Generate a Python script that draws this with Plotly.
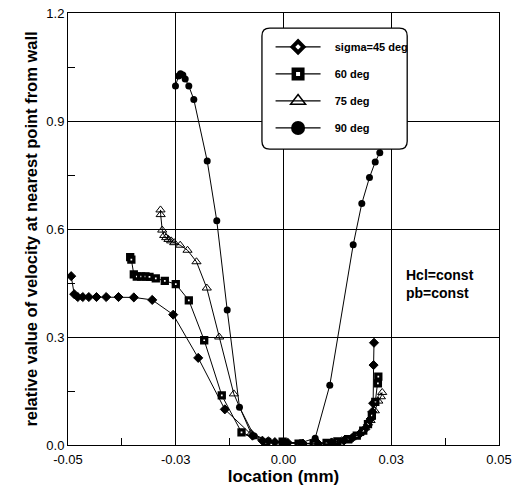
import plotly.graph_objects as go

# ---- data ----
x45 = [-0.04926, -0.04856, -0.04773, -0.04657, -0.04517, -0.04339, -0.04114, -0.03828,
       -0.03473, -0.03046, -0.02559, -0.01979, -0.01362, -0.0072, -0.0049, -0.0020, 0.0010,
       0.0045, 0.0080, 0.0112, 0.0140, 0.0160, 0.0176, 0.0187, 0.0196, 0.0202, 0.0206,
       0.0208, 0.0209, 0.0210]
y45 = [0.469, 0.419, 0.411, 0.411, 0.411, 0.411, 0.411, 0.411,
       0.410, 0.403, 0.362, 0.242, 0.099, 0.026, 0.012, 0.008, 0.006,
       0.004, 0.004, 0.007, 0.012, 0.020, 0.030, 0.042, 0.056, 0.072, 0.092,
       0.116, 0.222, 0.284]

x60 = [-0.03557, -0.03530, -0.03473, -0.03404, -0.03302, -0.03202, -0.03109, -0.02963,
       -0.02754, -0.02499, -0.02197, -0.01840, -0.01432, -0.00974, -0.0040, -0.0002,
       0.0035, 0.0070, 0.0100, 0.0125, 0.0150, 0.0170, 0.0185, 0.0196, 0.0205, 0.0213,
       0.0219, 0.0220]
y60 = [0.522, 0.515, 0.474, 0.468, 0.468, 0.468, 0.467, 0.463,
       0.456, 0.447, 0.402, 0.291, 0.138, 0.035, 0.006, 0.009,
       0.004, 0.004, 0.006, 0.010, 0.016, 0.026, 0.040, 0.058, 0.082, 0.120,
       0.171, 0.190]

x75 = [-0.02854, -0.02850, -0.02814, -0.02768, -0.02722, -0.02668, -0.02606, -0.02536,
       -0.02397, -0.02227, -0.02019, -0.01780, -0.01492, -0.01153, -0.0075, -0.0035,
       0.0005, 0.0045, 0.0080, 0.0110, 0.0135, 0.0158, 0.0176, 0.0190, 0.0202, 0.0212,
       0.0220, 0.0226, 0.0229]
y75 = [0.653, 0.640, 0.597, 0.582, 0.576, 0.571, 0.567, 0.562,
       0.555, 0.541, 0.509, 0.436, 0.300, 0.142, 0.032, 0.012,
       0.006, 0.003, 0.004, 0.007, 0.012, 0.020, 0.032, 0.048, 0.068, 0.095,
       0.122, 0.134, 0.146]

x90 = [-0.02506, -0.02436, -0.02390, -0.02336, -0.02281, -0.02197, -0.02081, -0.01770,
       -0.01548, -0.01306, -0.01021, -0.0068, -0.0035, 0.0000, 0.0040, 0.00735, 0.01074,
       0.01617, 0.01817, 0.01995, 0.02128, 0.02234, 0.0237]
y90 = [0.997, 1.025, 1.031, 1.028, 1.017, 0.997, 0.960, 0.789,
       0.623, 0.375, 0.105, 0.025, 0.012, 0.008, 0.006, 0.019, 0.166,
       0.556, 0.671, 0.743, 0.786, 0.812, 0.870]

series_names = ["sigma=45 deg", "60 deg", "75 deg", "90 deg"]
x_tickvals = [-0.05, -0.025, 0.0, 0.025, 0.05]
x_ticktext = ["-0.05", "-0.03", "0.00", "0.03", "0.05"]
y_tickvals = [0.0, 0.3, 0.6, 0.9, 1.2]
y_ticktext = ["0.0", "0.3", "0.6", "0.9", "1.2"]
note_text = "Hcl=const<br>pb=const"

FONT = "Liberation Sans, Arial, sans-serif"
PAD = "\u00a0\u00a0\u00a0"

data_styles = [
    dict(symbol="diamond", size=7, color="black", line=dict(color="black", width=1)),
    dict(symbol="square", size=5, color="white", line=dict(color="black", width=3.3)),
    dict(symbol="triangle-up-open", size=8, color="black", line=dict(color="black", width=1)),
    dict(symbol="circle", size=7, color="black", line=dict(color="black", width=0)),
]
legend_styles = [
    dict(symbol="diamond", size=8.5, color="white", line=dict(color="black", width=4)),
    dict(symbol="square", size=8.5, color="white", line=dict(color="black", width=4.5)),
    dict(symbol="triangle-up-open", size=13, color="black", line=dict(color="black", width=1.5)),
    dict(symbol="circle", size=14, color="black", line=dict(color="black", width=0)),
]

fig = go.Figure()
for xs, ys, ms in zip([x45, x60, x75, x90], [y45, y60, y75, y90], data_styles):
    fig.add_trace(go.Scatter(x=xs, y=ys, mode="lines+markers",
                             line=dict(color="black", width=1),
                             marker=ms, showlegend=False, cliponaxis=True))
for i, (name, ms) in enumerate(zip(series_names, legend_styles)):
    fig.add_trace(go.Scatter(x=[None], y=[None], mode="lines+markers", name=PAD + name,
                             line=dict(color="black", width=1.2), marker=ms,
                             legendgroup=str(i)))

# rounded legend box
x0, x1, y0, y1, r = 0.450, 0.787, 0.685, 0.965, 0.018
ry = r * 431 / 432
path = (f"M {x0+r},{y0} L {x1-r},{y0} Q {x1},{y0} {x1},{y0+ry} L {x1},{y1-ry} "
        f"Q {x1},{y1} {x1-r},{y1} L {x0+r},{y1} Q {x0},{y1} {x0},{y1-ry} "
        f"L {x0},{y0+ry} Q {x0},{y0} {x0+r},{y0} Z")
fig.add_shape(type="path", path=path, xref="paper", yref="paper",
              fillcolor="white", line=dict(color="black", width=1.3), layer="above")

fig.add_annotation(x=0.78, y=0.373, xref="paper", yref="paper", text=note_text,
                   showarrow=False, xanchor="left", yanchor="middle", align="left",
                   font=dict(family=FONT, size=14, color="black", weight="bold"))

axis_common = dict(showline=True, linecolor="black", linewidth=1, mirror=True,
                   showgrid=True, gridcolor="black", gridwidth=1, zeroline=False,
                   ticks="", automargin=False, ticklabeloverflow="allow",
                   tickfont=dict(family=FONT, size=13, color="black"))

fig.update_xaxes(range=[-0.05, 0.05], tickmode="array", tickvals=x_tickvals,
                 ticktext=x_ticktext, ticklabelstandoff=2,
                 minor=dict(tickmode="array", tickvals=[-0.0375, -0.0125, 0.0125, 0.0375],
                            ticks="inside", ticklen=7, tickcolor="black", showgrid=False),
                 title=dict(text="location (mm)", standoff=0,
                            font=dict(family=FONT, size=17, color="black", weight="bold")),
                 **axis_common)
fig.update_yaxes(range=[0, 1.2], tickmode="array", tickvals=y_tickvals,
                 ticktext=y_ticktext,
                 minor=dict(tickmode="array", tickvals=[0.15, 0.45, 0.75, 1.05],
                            ticks="inside", ticklen=7, tickcolor="black", showgrid=False),
                 title=dict(text="relative value of velocity at nearest point from wall",
                            standoff=4,
                            font=dict(family=FONT, size=16.5, color="black", weight="bold")),
                 **axis_common)

fig.update_layout(
    width=512, height=488,
    margin=dict(l=68, r=13, t=13, b=43),
    plot_bgcolor="white", paper_bgcolor="white",
    font=dict(family=FONT, color="black"),
    legend=dict(x=0.47, y=0.955, xanchor="left", yanchor="top",
                bgcolor="rgba(0,0,0,0)", borderwidth=0,
                font=dict(family=FONT, size=11, color="black", weight="bold"),
                tracegroupgap=8, itemwidth=45),
)

# remove the default 8px page margin so the figure fills the window exactly
fig.write_html("out.html", config={"displayModeBar": False},
               post_script="document.body.style.margin='0';document.body.style.overflow='hidden';")
